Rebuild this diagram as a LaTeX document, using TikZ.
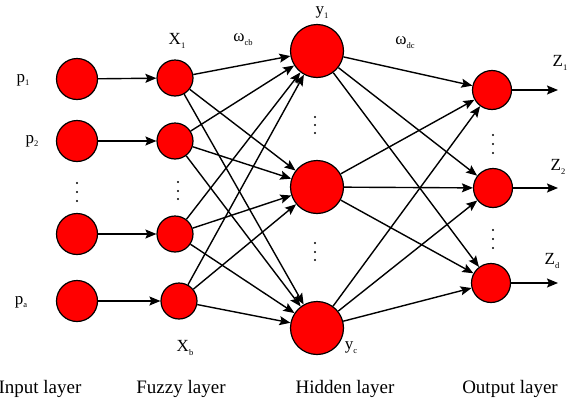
\documentclass[tikz,border=0pt]{standalone}
\usepackage{fontspec}
\setmainfont{Liberation Serif}
\usetikzlibrary{arrows.meta}
\newcommand{\lsub}[1]{\raisebox{-0.5ex}{\fontsize{8.5}{8.5}\selectfont #1}}

\begin{document}
\begin{tikzpicture}[x=1pt,y=-1pt,>={Stealth[length=11pt,width=9pt,inset=2pt]},
	line width=1.4pt, line join=round,
	neuron/.style={circle,draw=black,fill=red,line width=1.2pt,inner sep=0pt},
	lbl/.style={font=\fontsize{17}{17}\selectfont,inner sep=0pt},
	layer/.style={font=\fontsize{19}{19}\selectfont,inner sep=0pt}]
	\useasboundingbox (0,0) rectangle (568,402);
	% neurons
	\foreach \n/\y in {1/79,2/141,3/234,4/301} \node[neuron,minimum size=41pt](I\n) at (77,\y){};
	\foreach \n/\x/\y in {1/175/78,2/175/141,3/175/234,4/179/301} \node[neuron,minimum size=36pt](F\n) at (\x,\y){};
	\foreach \n/\y in {1/51,2/187,3/328} \node[neuron,minimum size=53pt](H\n) at (317,\y){};
	\foreach \n/\x/\y in {1/492/90,2/493/188,3/491/283} \node[neuron,minimum size=39pt](O\n) at (\x,\y){};
	\path
	(558,90)coordinate(E1)
	(558,188)coordinate(E2)
	(558,283)coordinate(E3)
	;
	% connections
	\foreach \n in {1,...,4} \draw[->](I\n)--(F\n);
	\foreach \a in {1,...,4} \foreach \b in {1,2,3} \draw[->](F\a)--(H\b);
	\foreach \a in {1,2,3} \foreach \b in {1,2,3} \draw[->](H\a)--(O\b);
	\foreach \n in {1,2,3} \draw[->](O\n)--(E\n);
	% dots
	\foreach \x/\y in {77/183,77/192,77/201,178/182,178/191,178/199,315/117,315/125,315/133,315/243,315/252,315/260,493/135,493/144,493/153,493/230,493/239,493/248}
	\fill[black](\x,\y) circle(1.1pt);
	% labels
	\node[lbl](lp1) at (23,80){p\lsub{1}};
	\node[lbl](lp2) at (32,141){p\lsub{2}};
	\node[lbl](lpa) at (21,302){p\lsub{a}};
	\node[lbl](lx1) at (177,41){X\lsub{1}};
	\node[lbl](lxb) at (185,348){X\lsub{b}};
	\node[lbl](ly1) at (322,13){y\lsub{1}};
	\node[lbl](lyc) at (351,348){y\lsub{c}};
	\node[lbl](lwcb) at (243,40){ω\lsub{cb}};
	\node[lbl](lwdc) at (405,43){ω\lsub{dc}};
	\node[lbl](lz1) at (560,63){Z\lsub{1}};
	\node[lbl](lz2) at (558,167){Z\lsub{2}};
	\node[lbl](lzd) at (552,261){Z\lsub{d}};
	\node[layer](lin) at (40,389){Input layer};
	\node[layer](lfz) at (181,389){Fuzzy layer};
	\node[layer](lhd) at (345,389){Hidden layer};
	\node[layer](lout) at (510,389){Output layer};
\end{tikzpicture}
\end{document}
